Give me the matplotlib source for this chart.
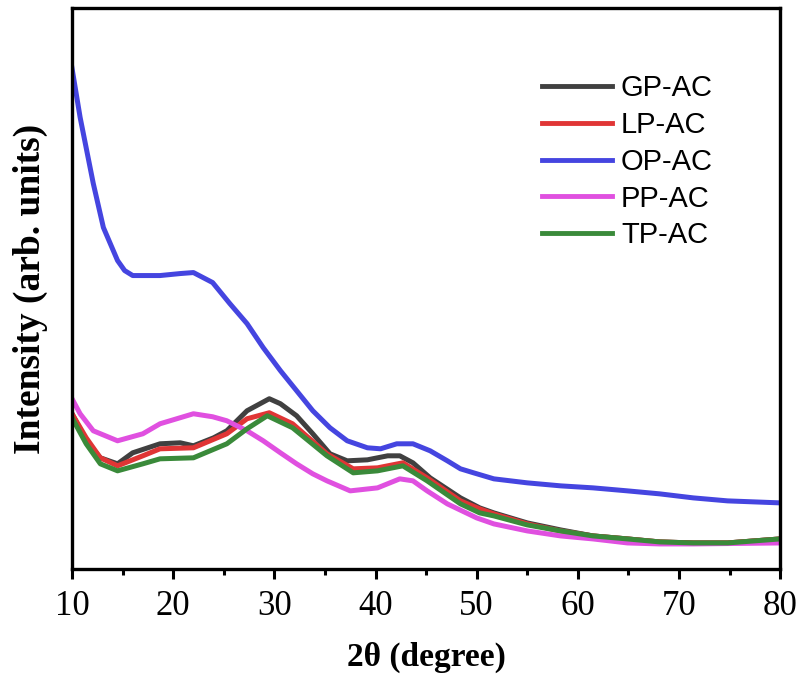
import matplotlib
matplotlib.use('Agg')
import matplotlib.pyplot as plt

# XRD patterns (intensity in arbitrary units)
gp_x = [10.0, 11.4, 12.8, 14.5, 16.0, 18.7, 20.7, 22.0, 24.0, 25.3, 27.3, 29.5, 30.6, 32.2,
        33.8, 35.5, 37.2, 39.2, 41.2, 42.4, 43.7, 45.4, 48.4, 50.3, 51.7, 55.0, 58.3, 61.5,
        64.9, 68.1, 71.4, 74.8, 80.0]
gp_y = [155, 128, 111, 105, 116, 125, 126, 123, 131, 138, 158, 170, 165, 153,
        135, 115, 108, 109, 113, 113, 106, 91, 71, 61, 56, 46, 39, 33,
        30, 27, 26, 26, 30]

lp_x = [10.0, 11.4, 12.8, 14.5, 17.0, 18.7, 22.0, 25.3, 27.3, 29.5, 31.8, 35.2, 37.8,
        40.2, 42.7, 45.1, 48.4, 50.3, 51.7, 55.0, 58.3, 61.5, 64.9, 68.1, 71.4, 74.8, 80.0]
lp_y = [155, 131, 111, 103, 113, 120, 121, 135, 150, 156, 145, 115, 100,
        101, 106, 91, 68, 60, 55, 45, 38, 33, 30, 27, 26, 26, 30]

op_x = [10.0, 10.8, 12.1, 13.1, 14.5, 15.2, 16.0, 18.7, 20.7, 22.0, 23.9, 25.6, 27.3, 28.9,
        30.6, 32.2, 33.8, 35.5, 37.2, 39.2, 40.5, 42.1, 43.7, 45.4, 47.1, 48.4, 49.7,
        51.7, 55.0, 58.3, 61.5, 64.9, 68.1, 71.4, 74.8, 80.0]
op_y = [500, 451, 385, 341, 308, 298, 293, 293, 295, 296, 286, 265, 245, 221,
        198, 178, 158, 141, 128, 121, 120, 125, 125, 118, 108, 100, 96,
        90, 86, 83, 81, 78, 75, 71, 68, 66]

pp_x = [10.0, 10.8, 12.1, 14.5, 17.0, 18.7, 22.0, 23.9, 25.3, 27.3, 28.9, 30.6, 32.2,
        33.8, 35.2, 37.5, 40.2, 42.4, 43.7, 45.1, 47.1, 50.0, 51.7, 55.0, 58.3, 61.5,
        64.9, 68.1, 71.4, 80.0]
pp_y = [170, 155, 138, 128, 135, 145, 155, 152, 148, 138, 128, 116, 105,
        95, 88, 78, 81, 90, 88, 78, 65, 51, 45, 38, 33, 30,
        26, 25, 25, 26]

tp_x = [10.0, 11.4, 12.8, 14.5, 17.0, 18.7, 22.0, 25.3, 27.3, 29.3, 31.8, 35.2, 37.8,
        40.2, 42.7, 45.1, 48.4, 50.3, 51.7, 55.0, 58.3, 61.5, 64.9, 68.1, 71.4, 74.8, 80.0]
tp_y = [151, 125, 105, 98, 105, 110, 111, 125, 140, 153, 141, 113, 96,
        98, 103, 88, 65, 56, 53, 44, 38, 33, 30, 27, 26, 26, 30]

labels = ['GP-AC', 'LP-AC', 'OP-AC', 'PP-AC', 'TP-AC']
colors = ['#404040', '#e03535', '#4545e0', '#e050e0', '#3a8a3a']
series = [(gp_x, gp_y), (lp_x, lp_y), (op_x, op_y), (pp_x, pp_y), (tp_x, tp_y)]

fig = plt.figure(figsize=(8.02, 6.81), dpi=100)
ax = fig.add_axes([0.0898, 0.1645, 0.883, 0.8235])

for (xs, ys), lab, col in zip(series, labels, colors):
    ax.plot(xs, ys, color=col, lw=3.6, label=lab, solid_joinstyle='round')

ax.set_xlim(10, 80)
ax.set_ylim(0, 560)
ax.set_xticks(range(10, 81, 10))
ax.set_xticks(range(15, 80, 10), minor=True)
ax.set_yticks([])
for s in ax.spines.values():
    s.set_linewidth(2.4)
ax.tick_params(axis='x', which='major', direction='out', length=7, width=2.2,
               labelsize=25, pad=8)
ax.tick_params(axis='x', which='minor', direction='out', length=4, width=2.2)
for t in ax.get_xticklabels():
    t.set_fontfamily('Liberation Serif')

ax.set_xlabel('2θ (degree)', fontsize=24, fontweight='bold',
              fontfamily='Liberation Serif', labelpad=14)
ax.set_ylabel('Intensity (arb. units)', fontsize=27, fontweight='bold',
              fontfamily='Liberation Serif', labelpad=17)

# legend box placed so the first handle starts at ~x=542px, first row at ~y=87px
leg = ax.legend(loc='upper left', bbox_to_anchor=(0.664, 0.882), frameon=False,
                borderpad=0, borderaxespad=0,
                prop={'family': 'Liberation Sans', 'size': 21},
                handlelength=2.4, handletextpad=0.3, labelspacing=0.3)
for h in leg.legend_handles:
    h.set_linewidth(3.5)

fig.savefig('out.png', dpi=100)
